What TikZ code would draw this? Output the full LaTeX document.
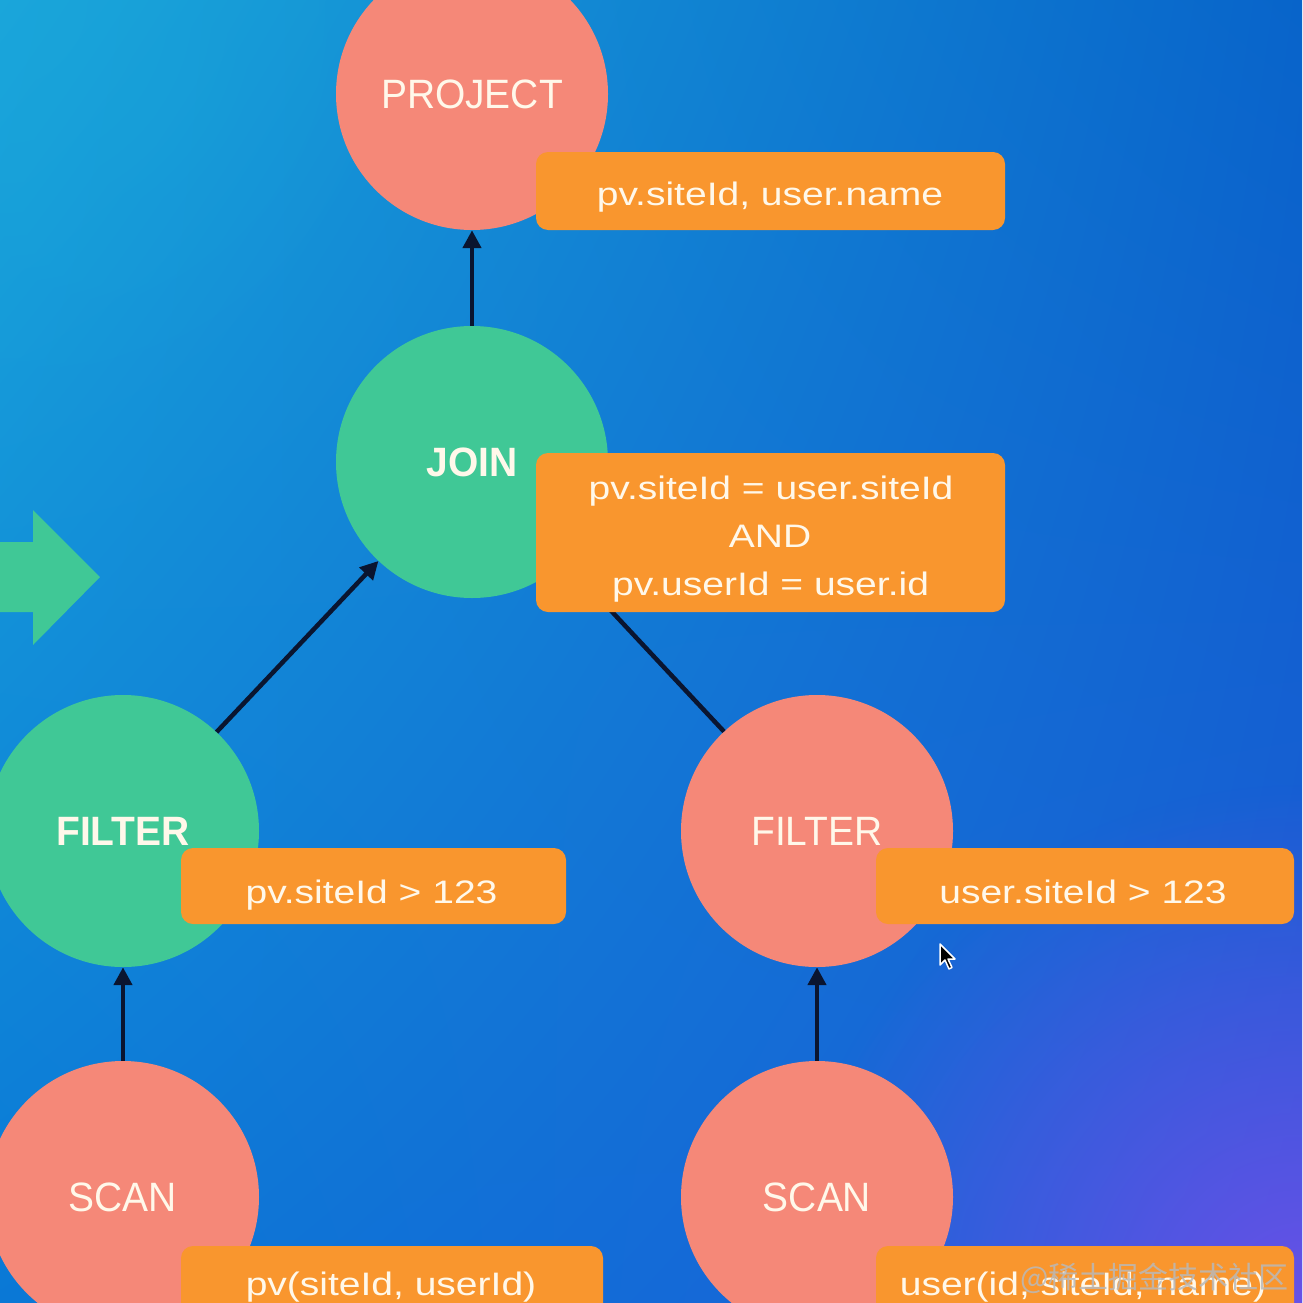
\documentclass[tikz,border=0pt]{standalone}
\usepackage{fontspec}
\setmainfont{Liberation Sans}
\newfontfamily\boxfont{Liberation Sans}[FakeStretch=1.2]
\newfontfamily\opfont{Liberation Sans}[FakeStretch=0.95]
\newfontfamily\cjk{Noto Sans CJK SC}
\usetikzlibrary{arrows.meta,fadings,shadings}
\tikzfading[name=glowfade, inner color=transparent!0, outer color=transparent!100]
\definecolor{salmon}{HTML}{F58878}
\definecolor{opgreen}{HTML}{40C896}
\definecolor{tagorange}{HTML}{F9962E}
\definecolor{textcream}{HTML}{FFF8EA}
\definecolor{linecol}{HTML}{0A1530}
\definecolor{bgUL}{HTML}{1AA6DA}
\definecolor{bgUR}{HTML}{0864CA}
\definecolor{bgLL}{HTML}{0A78D6}
\definecolor{bgLR}{HTML}{1E5CD8}
\definecolor{glow}{HTML}{7050E8}
\begin{document}
\begin{tikzpicture}[x=1pt,y=-1pt,
  opnode/.style={circle, minimum size=272pt, inner sep=0pt, text=textcream,
    font=\opfont\fontsize{41}{47}\selectfont},
  opbold/.style={font=\opfont\fontsize{41}{47}\selectfont\bfseries},
  tagbox/.style={rounded corners=12pt, fill=tagorange, inner sep=0pt},
  tagtext/.style={anchor=base, inner sep=0pt, text=textcream,
    font=\boxfont\fontsize{32.5}{40}\selectfont},
  link/.style={draw=linecol, line width=4.5pt, -{Triangle[width=18pt,length=18pt]}}]
\useasboundingbox (0,0) rectangle (1302,1303);
% background
\shade[upper left=bgUL, upper right=bgUR, lower left=bgLL, lower right=bgLR]
  (0,0) rectangle (1302,1303);
\begin{scope}
  \clip (0,0) rectangle (1302,1303);
  \fill[glow, path fading=glowfade, fill opacity=0.9] (1302,1303) circle (520);
  \fill[bgUL, path fading=glowfade, fill opacity=0.5] (0,0) circle (420);
\end{scope}
% green block arrow
\fill[opgreen] (0,542) -- (33,542) -- (33,510) -- (100,577) -- (33,645) -- (33,612) -- (0,612) -- cycle;
% operator circles
\node[opnode, fill=salmon] (project) at (472,94) {PROJECT};
\node[opnode, opbold, fill=opgreen] (join) at (472,462) {JOIN};
\node[opnode, opbold, fill=opgreen] (filterL) at (123,831) {FILTER};
\node[opnode, fill=salmon] (scanL) at (123,1197) {SCAN};
\node[opnode, fill=salmon] (filterR) at (817,831) {FILTER};
\node[opnode, fill=salmon] (scanR) at (817,1197) {SCAN};
% connectors
\draw[link] (join) -- (project);
\draw[link] (filterL) -- (join);
\draw[link] (filterR) -- (join);
\draw[link] (scanL) -- (filterL);
\draw[link] (scanR) -- (filterR);
% tag boxes
\node[tagbox, minimum width=469pt, minimum height=78pt] (tproject) at (770.5,191) {};
\node[tagbox, minimum width=469pt, minimum height=159pt] (tjoin) at (770.5,532.5) {};
\node[tagbox, minimum width=385pt, minimum height=76pt] (tfilterL) at (373.5,886) {};
\node[tagbox, minimum width=418pt, minimum height=76pt] (tfilterR) at (1085,886) {};
\node[tagbox, minimum width=422pt, minimum height=76pt] (tscanL) at (392,1284) {};
\node[tagbox, minimum width=418pt, minimum height=76pt] (tscanR) at (1085,1284) {};
% tag texts
\node[tagtext] (lproject) at (770,205) {pv.siteId, user.name};
\node[tagtext] (ljoinA) at (771,499) {pv.siteId = user.siteId};
\node[tagtext] (ljoinB) at (770,547) {AND};
\node[tagtext] (ljoinC) at (770.5,595) {pv.userId = user.id};
\node[tagtext] (lfilterL) at (371.5,903) {pv.siteId > 123};
\node[tagtext] (lfilterR) at (1083,903) {user.siteId > 123};
\node[tagtext] (lscanL) at (391,1295) {pv(siteId, userId)};
\node[tagtext] (lscanR) at (1083,1295) {user(id, siteId, name)};
% mouse cursor
\filldraw[fill=black, draw=white, line width=1.5pt, line join=round]
  (940,944) -- (940,965) -- (945,960) -- (949,969) -- (952,967.5) -- (948,959) -- (955,959) -- cycle;
% site watermark
\node[font=\cjk\fontsize{30}{30}\selectfont, text=gray!55!white, text opacity=0.85, anchor=east]
  (site) at (1292,1278) {@稀土掘金技术社区};
\end{tikzpicture}
\end{document}
